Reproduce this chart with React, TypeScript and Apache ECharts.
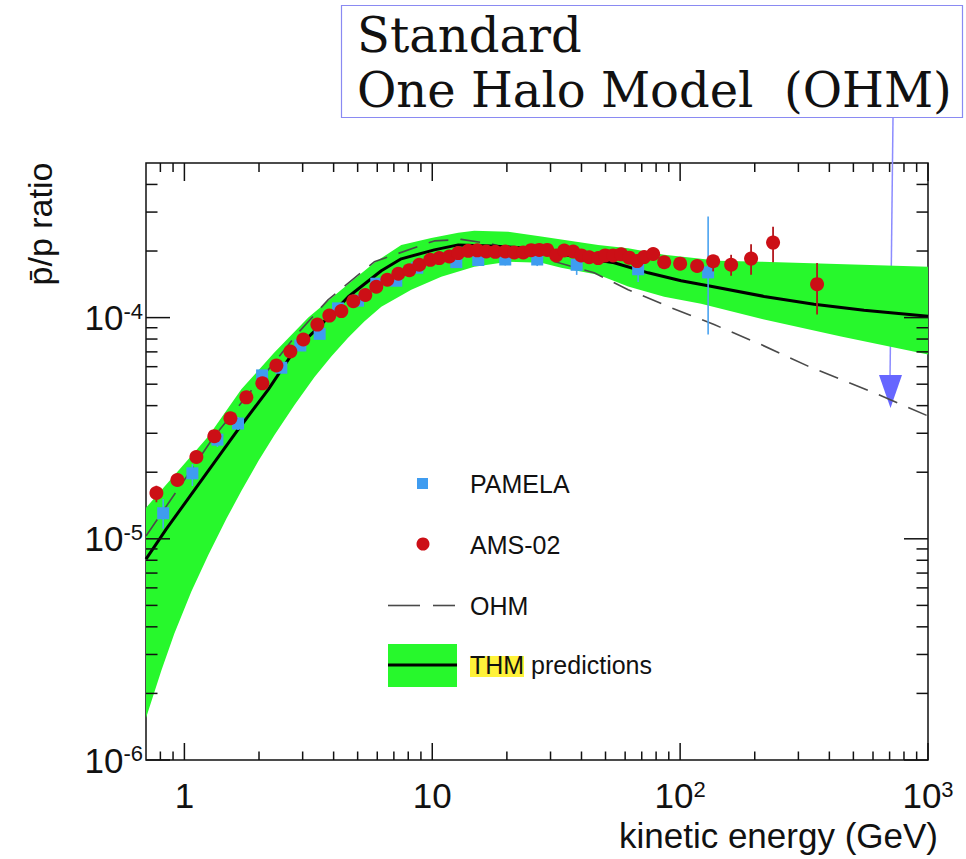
import React, { useEffect, useRef } from "react";
import * as echarts from "echarts";

// Axis ranges
const X_MIN = 0.7;
const X_MAX = 1000;
const Y_MIN = 1e-6;
const Y_MAX = 5e-4;

// Tick values
const xMajorTicks = [1, 10, 100, 1000];
const xMinorTicks = [0.8, 0.9, 2, 3, 4, 5, 6, 7, 8, 9, 20, 30, 40, 50, 60, 70, 80, 90, 200, 300, 400, 500, 600, 700, 800, 900];
const yMajorTicks = [1e-6, 1e-5, 1e-4];
const yMinorTicks = [2e-6, 3e-6, 4e-6, 5e-6, 6e-6, 7e-6, 8e-6, 9e-6, 2e-5, 3e-5, 4e-5, 5e-5, 6e-5, 7e-5, 8e-5, 9e-5, 2e-4, 3e-4, 4e-4];

// AMS-02 data
const amsE = [0.771, 0.937, 1.118, 1.321, 1.533, 1.778, 2.063, 2.35, 2.676, 3.018, 3.439, 3.843, 4.297, 4.802, 5.369, 5.945, 6.585, 7.295, 8.08, 8.864, 9.815, 10.67, 11.71, 12.73, 13.97, 15.19, 16.51, 17.95, 19.7, 21.41, 23.28, 25.07, 27.01, 29.09, 31.62, 34.07, 37.03, 39.89, 42.97, 46.71, 49.85, 53.68, 57.83, 62.3, 67.08, 71.58, 77.83, 86.21, 100, 117.1, 135.9, 160.6, 193.3, 237.1, 356.8];
const amsR = [1.611e-5, 1.844e-5, 2.342e-5, 2.911e-5, 3.508e-5, 4.361e-5, 5.043e-5, 6.078e-5, 7.028e-5, 7.96e-5, 9.3e-5, 1.021e-4, 1.07e-4, 1.187e-4, 1.266e-4, 1.379e-4, 1.483e-4, 1.579e-4, 1.637e-4, 1.733e-4, 1.825e-4, 1.858e-4, 1.889e-4, 1.957e-4, 2.004e-4, 2.014e-4, 1.989e-4, 1.983e-4, 1.989e-4, 1.972e-4, 1.972e-4, 2.018e-4, 2.024e-4, 2.024e-4, 1.911e-4, 2.01e-4, 1.989e-4, 1.911e-4, 1.874e-4, 1.858e-4, 1.911e-4, 1.911e-4, 1.932e-4, 1.867e-4, 1.801e-4, 1.877e-4, 1.938e-4, 1.78e-4, 1.754e-4, 1.711e-4, 1.797e-4, 1.733e-4, 1.849e-4, 2.183e-4, 1.417e-4];
const amsErrE = [0.771, 0.937, 135.9, 160.6, 193.3, 237.1, 356.8];
const amsErrLo = [1.463e-5, 1.75e-5, 1.618e-4, 1.546e-4, 1.562e-4, 1.781e-4, 1.032e-4];
const amsErrHi = [1.738e-5, 1.94e-5, 1.903e-4, 1.923e-4, 2.148e-4, 2.578e-4, 1.765e-4];

// PAMELA data
const pamE = [0.821, 1.077, 1.359, 1.646, 2.058, 2.461, 2.936, 3.513, 4.167, 5.017, 5.945, 7.158, 8.7, 12.5, 15.33, 19.7, 26.51, 38.25, 67.7, 129.7];
const pamR = [1.305e-5, 1.977e-5, 2.807e-5, 3.32e-5, 5.48e-5, 5.935e-5, 7.48e-5, 8.445e-5, 1.101e-4, 1.193e-4, 1.423e-4, 1.468e-4, 1.68e-4, 1.782e-4, 1.821e-4, 1.831e-4, 1.831e-4, 1.733e-4, 1.654e-4, 1.601e-4];
const pamLo = [1.109e-5, 1.733e-5, 2.6e-5, 3.1e-5, 5.15e-5, 5.6e-5, 7.1e-5, 8.0e-5, 1.05e-4, 1.14e-4, 1.36e-4, 1.40e-4, 1.60e-4, 1.68e-4, 1.72e-4, 1.72e-4, 1.71e-4, 1.56e-4, 1.45e-4, 8.383e-5];
const pamHi = [1.514e-5, 2.176e-5, 3.0e-5, 3.55e-5, 5.8e-5, 6.25e-5, 7.85e-5, 8.9e-5, 1.15e-4, 1.25e-4, 1.49e-4, 1.54e-4, 1.76e-4, 1.89e-4, 1.93e-4, 1.95e-4, 1.96e-4, 1.92e-4, 1.89e-4, 2.864e-4];

// THM prediction (central line)
const thmE = [0.7, 0.846, 1.651, 2.182, 2.777, 3.567, 4.585, 6.229, 7.499, 10.19, 12.73, 17.29, 23.5, 31.04, 39.89, 54.2, 74.3, 100.9, 129.7, 218.2, 347, 552, 1000];
const thmR = [8.1e-6, 1.109e-5, 3.129e-5, 4.738e-5, 7.101e-5, 9.3e-5, 1.243e-4, 1.628e-4, 1.844e-4, 2.024e-4, 2.132e-4, 2.11e-4, 2.066e-4, 1.962e-4, 1.863e-4, 1.769e-4, 1.594e-4, 1.468e-4, 1.393e-4, 1.247e-4, 1.15e-4, 1.079e-4, 1.014e-4];

// OHM (standard one halo model)
const ohmE = [0.7, 1.321, 2.883, 3.807, 5.836, 10.19, 13.09, 17.29, 31.04, 45.0, 61.7, 91.98, 137.1, 212.1, 328.1, 605.8, 1000];
const ohmR = [1.03e-5, 2.911e-5, 8.557e-5, 1.206e-4, 1.788e-4, 2.222e-4, 2.257e-4, 2.154e-4, 1.793e-4, 1.594e-4, 1.337e-4, 1.109e-4, 9.3e-5, 7.553e-5, 6.034e-5, 4.578e-5, 3.592e-5];

// THM uncertainty band
const bandUpE = [0.7, 1.25, 1.697, 2.306, 3.162, 4.297, 5.836, 7.499, 9.909, 12.73, 14.77, 20.25, 27.52, 46.71, 61.7, 86.21, 113.9, 142.3, 212.1, 1000];
const bandUpR = [1.38e-5, 2.911e-5, 4.738e-5, 6.956e-5, 1.0e-4, 1.337e-4, 1.769e-4, 2.132e-4, 2.293e-4, 2.422e-4, 2.472e-4, 2.447e-4, 2.324e-4, 2.132e-4, 2.061e-4, 1.922e-4, 1.858e-4, 1.806e-4, 1.788e-4, 1.697e-4];
const bandLoE = [0.7, 0.808, 0.911, 1.067, 1.25, 1.477, 1.697, 1.988, 2.306, 2.777, 3.344, 3.914, 4.585, 5.318, 6.229, 8.229, 10.87, 14.77, 20.25, 27.52, 33.13, 46.71, 61.7, 86.21, 121.5, 218.2, 445.9, 1000];
const bandLoR = [1.55e-6, 2.543e-6, 3.733e-6, 5.771e-6, 8.47e-6, 1.231e-5, 1.645e-5, 2.245e-5, 2.941e-5, 4.015e-5, 5.368e-5, 6.674e-5, 8.127e-5, 9.594e-5, 1.121e-4, 1.337e-4, 1.53e-4, 1.697e-4, 1.788e-4, 1.769e-4, 1.68e-4, 1.562e-4, 1.384e-4, 1.243e-4, 1.156e-4, 9.795e-5, 8.21e-5, 6.81e-5];

const SANS = '"Liberation Sans", Arial, Helvetica, sans-serif';
const SERIF = '"DejaVu Serif", serif';
const GREEN = "#27f82c";
const RED = "#cc0f16";
const BLUE = "#3f9cf0";

function powLabel(v: number, axis: "x" | "y") {
  const e = Math.log10(v);
  const r = Math.round(e);
  if (Math.abs(e - r) > 1e-6) return "";
  if (axis === "x" && r === 0) return "{b|1}";
  if (axis === "x" && r === 1) return "{b|10}";
  return "{b|10}{s|" + r + "}";
}

const richLabel = {
  b: { fontSize: 35, fontFamily: SANS, color: "#111" },
  s: { fontSize: 22, fontFamily: SANS, color: "#111", verticalAlign: "top", padding: [0, 0, 12, 0] },
};

export default function App() {
  const ref = useRef<HTMLDivElement>(null);
  useEffect(() => {
    if (!ref.current) return;
    const chart = echarts.init(ref.current, null, { renderer: "svg" });

    const xTickData = [
      ...xMajorTicks.map((v) => [v, Y_MIN, 1]),
      ...xMinorTicks.map((v) => [v, Y_MIN, 0]),
    ];
    const yTickData = [
      ...yMajorTicks.map((v) => [X_MIN, v, 1]),
      ...yMinorTicks.map((v) => [X_MIN, v, 0]),
    ];

    const option: any = {
      animation: false,
      backgroundColor: "#fff",
      grid: { left: 146, right: 38, top: 163, bottom: 99, show: true, borderColor: "#111", borderWidth: 1.5, backgroundColor: "transparent" },
      xAxis: {
        type: "log",
        logBase: 10,
        min: X_MIN,
        max: X_MAX,
        axisLine: { show: false },
        axisTick: { show: false },
        splitLine: { show: false },
        minorTick: { show: false },
        axisLabel: {
          margin: 18,
          showMinLabel: true,
          showMaxLabel: true,
          formatter: (v: number) => powLabel(v, "x"),
          rich: richLabel,
        },
        name: "kinetic energy (GeV)",
        nameLocation: "end",
        nameGap: 10,
        nameTextStyle: { fontSize: 35, fontFamily: SANS, color: "#111", align: "right", verticalAlign: "top", padding: [58, 0, 0, 0] },
      },
      yAxis: {
        type: "log",
        logBase: 10,
        min: Y_MIN,
        max: Y_MAX,
        axisLine: { show: false },
        axisTick: { show: false },
        splitLine: { show: false },
        minorTick: { show: false },
        axisLabel: {
          margin: 3,
          showMinLabel: true,
          showMaxLabel: true,
          formatter: (v: number) => powLabel(v, "y"),
          rich: richLabel,
        },
      },
      series: [
        {
          name: "THM band",
          type: "custom",
          coordinateSystem: "cartesian2d",
          z: 1,
          clip: true,
          silent: true,
          data: [[1, 1e-4]],
          renderItem: (params: any, api: any) => {
            const pts: number[][] = [];
            for (let i = 0; i < bandUpE.length; i++) pts.push(api.coord([bandUpE[i], bandUpR[i]]));
            for (let i = bandLoE.length - 1; i >= 0; i--) pts.push(api.coord([bandLoE[i], bandLoR[i]]));
            return { type: "polygon", shape: { points: pts }, style: { fill: GREEN, stroke: "none" } };
          },
        },
        {
          name: "OHM",
          type: "line",
          z: 2,
          showSymbol: false,
          symbol: "none",
          data: ohmE.map((e, i) => [e, ohmR[i]]),
          lineStyle: { color: "#4a4a4a", width: 1.6, type: [20, 12] },
        },
        {
          name: "THM",
          type: "line",
          z: 3,
          showSymbol: false,
          symbol: "none",
          data: thmE.map((e, i) => [e, thmR[i]]),
          lineStyle: { color: "#000", width: 3 },
        },
        {
          name: "PAMELA errors",
          type: "custom",
          coordinateSystem: "cartesian2d",
          z: 4,
          silent: true,
          data: pamE.map((e, i) => [e, pamLo[i], pamHi[i]]),
          encode: { x: 0, y: [1, 2] },
          renderItem: (params: any, api: any) => {
            const lo = api.coord([api.value(0), api.value(1)]);
            const hi = api.coord([api.value(0), api.value(2)]);
            return { type: "line", shape: { x1: lo[0], y1: lo[1], x2: hi[0], y2: hi[1] }, style: { stroke: "#4aa3f0", lineWidth: 1.6 } };
          },
        },
        {
          name: "PAMELA",
          type: "scatter",
          z: 5,
          symbol: "rect",
          symbolSize: 12,
          data: pamE.map((e, i) => [e, pamR[i]]),
          itemStyle: { color: BLUE, opacity: 1 },
        },
        {
          name: "AMS-02 errors",
          type: "custom",
          coordinateSystem: "cartesian2d",
          z: 6,
          silent: true,
          data: amsErrE.map((e, i) => [e, amsErrLo[i], amsErrHi[i]]),
          encode: { x: 0, y: [1, 2] },
          renderItem: (params: any, api: any) => {
            const lo = api.coord([api.value(0), api.value(1)]);
            const hi = api.coord([api.value(0), api.value(2)]);
            return { type: "line", shape: { x1: lo[0], y1: lo[1], x2: hi[0], y2: hi[1] }, style: { stroke: "#b3161c", lineWidth: 1.8 } };
          },
        },
        {
          name: "AMS-02",
          type: "scatter",
          z: 7,
          symbol: "circle",
          symbolSize: 14,
          data: amsE.map((e, i) => [e, amsR[i]]),
          itemStyle: { color: RED, opacity: 1 },
        },
        {
          name: "x ticks",
          type: "custom",
          coordinateSystem: "cartesian2d",
          z: 8,
          silent: true,
          clip: false,
          data: xTickData,
          renderItem: (params: any, api: any) => {
            const v = api.value(0);
            const major = api.value(2) === 1;
            const b = api.coord([v, Y_MIN]);
            const t = api.coord([v, Y_MAX]);
            const lb = major ? 17 : 8.5;
            const lt = major ? 18 : 9;
            const st = { stroke: "#111", lineWidth: 1.5 };
            return {
              type: "group",
              children: [
                { type: "line", shape: { x1: b[0], y1: b[1], x2: b[0], y2: b[1] - lb }, style: st },
                { type: "line", shape: { x1: t[0], y1: t[1], x2: t[0], y2: t[1] + lt }, style: st },
              ],
            };
          },
        },
        {
          name: "y ticks",
          type: "custom",
          coordinateSystem: "cartesian2d",
          z: 8,
          silent: true,
          clip: false,
          data: yTickData,
          renderItem: (params: any, api: any) => {
            const v = api.value(1);
            const major = api.value(2) === 1;
            const l = api.coord([X_MIN, v]);
            const r = api.coord([X_MAX, v]);
            const len = major ? 24 : 11.5;
            const st = { stroke: "#111", lineWidth: 1.5 };
            return {
              type: "group",
              children: [
                { type: "line", shape: { x1: l[0], y1: l[1], x2: l[0] + len, y2: l[1] }, style: st },
                { type: "line", shape: { x1: r[0], y1: r[1], x2: r[0] - len, y2: r[1] }, style: st },
              ],
            };
          },
        },
      ],
      graphic: [
        // y-axis title
        {
          type: "text",
          x: 40,
          y: 224,
          rotation: Math.PI / 2,
          style: { text: "p\u0304/p ratio", font: "34px " + SANS, fill: "#111", textAlign: "center", textVerticalAlign: "middle" },
        },
        // legend
        { type: "rect", shape: { x: 417, y: 478, width: 11, height: 11 }, style: { fill: BLUE } },
        { type: "text", x: 470, y: 484, style: { text: "PAMELA", font: "25px " + SANS, fill: "#111", textVerticalAlign: "middle" } },
        { type: "circle", shape: { cx: 423, cy: 544, r: 6.5 }, style: { fill: RED } },
        { type: "text", x: 470, y: 545, style: { text: "AMS-02", font: "25px " + SANS, fill: "#111", textVerticalAlign: "middle" } },
        { type: "line", shape: { x1: 388, y1: 605.5, x2: 420, y2: 605.5 }, style: { stroke: "#4a4a4a", lineWidth: 1.6 } },
        { type: "line", shape: { x1: 433, y1: 605.5, x2: 455, y2: 605.5 }, style: { stroke: "#4a4a4a", lineWidth: 1.6 } },
        { type: "text", x: 470, y: 606, style: { text: "OHM", font: "25px " + SANS, fill: "#111", textVerticalAlign: "middle" } },
        { type: "rect", shape: { x: 388, y: 644, width: 69, height: 43 }, style: { fill: GREEN } },
        { type: "line", shape: { x1: 388, y1: 665, x2: 457, y2: 665 }, style: { stroke: "#000", lineWidth: 3 } },
        { type: "rect", shape: { x: 470, y: 656, width: 54, height: 21 }, style: { fill: "#fff23a" } },
        { type: "text", x: 470, y: 665, style: { text: "THM predictions", font: "25px " + SANS, fill: "#111", textVerticalAlign: "middle" } },
        // annotation box
        { type: "rect", shape: { x: 341.5, y: 5.5, width: 621, height: 112 }, style: { fill: "#fff", stroke: "#8a8af2", lineWidth: 1.2 } },
        { type: "text", x: 357, y: 35, style: { text: "Standard", font: "48px " + SERIF, fill: "#111", textVerticalAlign: "middle" } },
        { type: "text", x: 357, y: 90, style: { text: "One Halo Model  (OHM)", font: "48px " + SERIF, fill: "#111", textVerticalAlign: "middle" } },
        // arrow
        { type: "line", shape: { x1: 893, y1: 118, x2: 890, y2: 380 }, style: { stroke: "#8c8cff", lineWidth: 1.5 } },
        { type: "polygon", shape: { points: [[879, 375], [902, 375], [890.5, 408]] }, style: { fill: "#6666ff" } },
      ],
    };
    chart.setOption(option);
    return () => chart.dispose();
  }, []);
  return <div ref={ref} style={{ position: "absolute", left: 0, top: 0, width: 966, height: 859 }} />;
}
